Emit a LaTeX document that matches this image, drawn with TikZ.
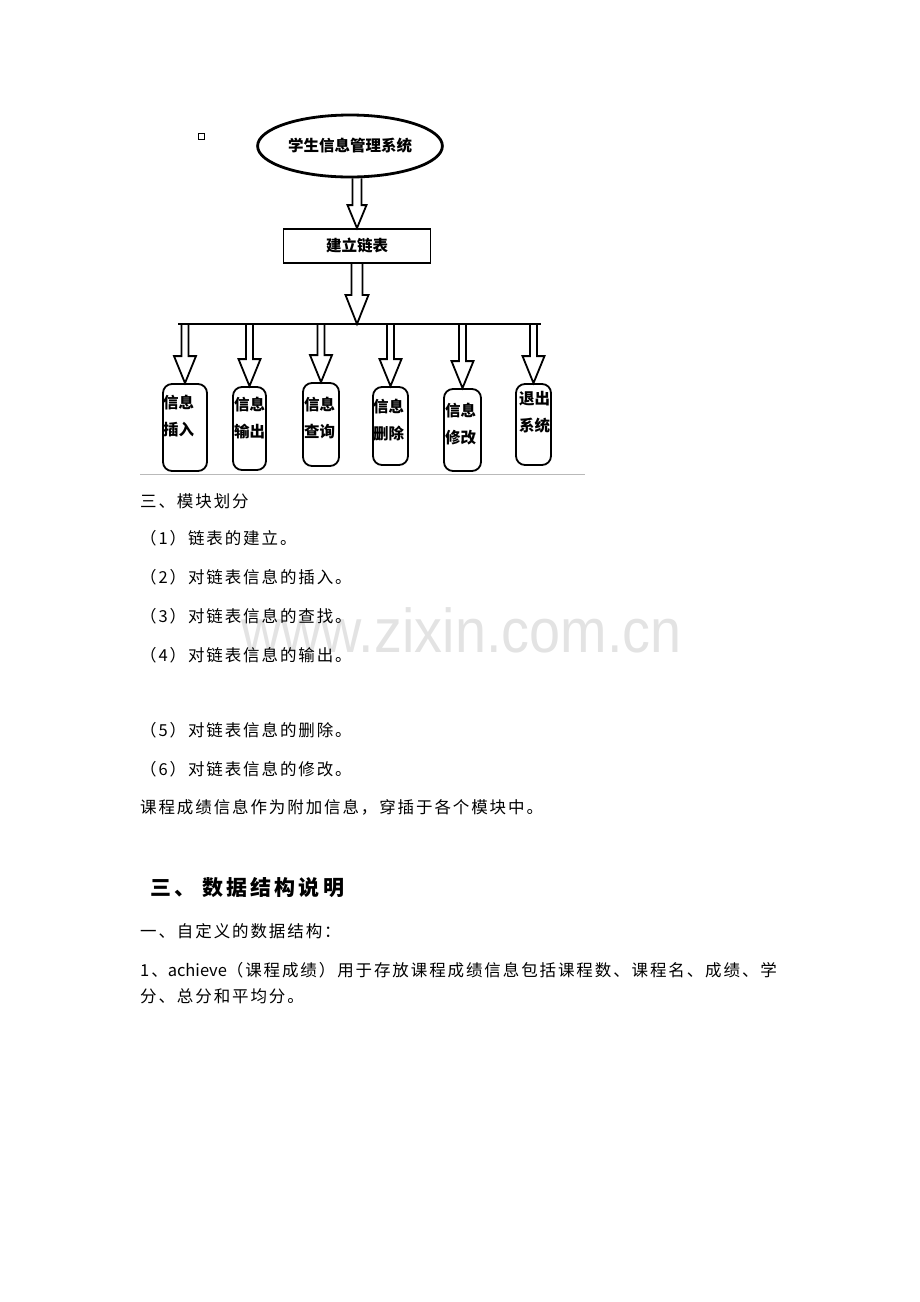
\documentclass[tikz,border=0pt]{standalone}
\usepackage{fontspec}
\usepackage{tikz}
\usetikzlibrary{positioning}
\usetikzlibrary{shapes.geometric}
\usetikzlibrary{calc}

\newfontfamily\cjk[LetterSpace=11.5]{Noto Sans CJK SC}
\newfontfamily\cjkhead[LetterSpace=15]{Noto Sans CJK SC}
\newfontfamily\cjkplain{Noto Sans CJK SC}
\newfontfamily\wmfont{Liberation Sans}

% start, tip, half shaft, half head, head length
\newcommand{\hollowarrow}[5]{%
  \draw[arrowline] ($(#1)+(-#3,0)$) -- ($(#2)+(-#3,-#5)$) -- ($(#2)+(-#4,-#5)$) -- (#2)
    -- ($(#2)+(#4,-#5)$) -- ($(#2)+(#3,-#5)$) -- ($(#1)+(#3,0)$);}

\tikzset{
  arrowline/.style={line width=1.8pt, line join=miter},
  infobox/.style={draw, line width=1.8pt, rounded corners=9pt, inner sep=0pt},
  boxtext/.style={font=\cjkplain\bfseries\fontsize{15.5}{27}\selectfont, align=left, inner sep=0pt, anchor=west},
  bodytext/.style={font=\cjk\fontsize{16.5}{18}\selectfont, inner sep=0pt, anchor=west},
}

\begin{document}
\begin{tikzpicture}[x=1pt,y=-1pt]
            \useasboundingbox (0,0) rectangle (920,1302);
            \node[font=\wmfont\fontsize{62}{62}\selectfont, text=black!11, anchor=base west, inner sep=0pt] (wm) at (241,652) {\scalebox{0.9}[1]{www.zixin.com.cn}};
            % diagram
            \draw[line width=0.6pt] (198,133) rectangle (204,139);
            \node[ellipse, draw, line width=2.8pt, minimum width=180pt, minimum height=62pt, font=\cjkplain\bfseries\fontsize{15.5}{18}\selectfont] (sys) at (350,146) {学生信息管理系统};
            \node[draw, line width=1.8pt, minimum width=147pt, minimum height=34pt, font=\cjkplain\bfseries\fontsize{15.5}{18}\selectfont] (list) at (357,246) {建立链表};
            \coordinate (top1) at (list.north |- sys.south);
            \hollowarrow{top1}{list.north}{4.5}{9.5}{23}
            \coordinate (busL) at (178,324);
            \coordinate (busR) at (541,324);
            \draw[line width=2.4pt] (busL) -- (busR);
            \coordinate (hub) at (list.south |- busL);
            \hollowarrow{list.south}{hub}{5.5}{11.5}{29}
            \node[infobox, minimum width=44pt, minimum height=87pt] (ins) at (185,427.5) {};
            \node[infobox, minimum width=33pt, minimum height=83pt] (out) at (249.5,428.5) {};
            \node[infobox, minimum width=36pt, minimum height=83pt] (qry) at (321,424.5) {};
            \node[infobox, minimum width=35pt, minimum height=78pt] (del) at (390.5,426) {};
            \node[infobox, minimum width=37pt, minimum height=82pt] (mod) at (462.5,430) {};
            \node[infobox, minimum width=35pt, minimum height=81pt] (ext) at (533.5,424.5) {};
            \node[boxtext] (insT) at (163,416.5) {信息\\插入};
            \node[boxtext] (outT) at (234,418.5) {信息\\输出};
            \node[boxtext] (qryT) at (304,417.5) {信息\\查询};
            \node[boxtext] (delT) at (373,420) {信息\\删除};
            \node[boxtext] (modT) at (445,424.5) {信息\\修改};
            \node[boxtext] (extT) at (519,412.5) {退出\\系统};
            \coordinate (ins0) at (ins.north |- busL);
            \coordinate (out0) at (out.north |- busL);
            \coordinate (qry0) at (qry.north |- busL);
            \coordinate (del0) at (del.north |- busL);
            \coordinate (mod0) at (mod.north |- busL);
            \coordinate (ext0) at (ext.north |- busL);
            \hollowarrow{ins0}{ins.north}{3.5}{11}{27}
            \hollowarrow{out0}{out.north}{3.5}{11}{27}
            \hollowarrow{qry0}{qry.north}{3.5}{11}{27}
            \hollowarrow{del0}{del.north}{3.5}{11}{27}
            \hollowarrow{mod0}{mod.north}{3.5}{11}{27}
            \hollowarrow{ext0}{ext.north}{3.5}{11}{27}
            \draw[gray!55, line width=1pt] (140,474) -- (585,474);
            % text
            \node[bodytext] (sec) at (140,501) {三、模块划分};
            \node[bodytext] (m1) at (140,538) {（1）链表的建立。};
            \node[bodytext] (m2) at (140,577) {（2）对链表信息的插入。};
            \node[bodytext] (m3) at (140,616) {（3）对链表信息的查找。};
            \node[bodytext] (m4) at (140,655) {（4）对链表信息的输出。};
            \node[bodytext] (m5) at (140,730) {（5）对链表信息的删除。};
            \node[bodytext] (m6) at (140,769) {（6）对链表信息的修改。};
            \node[bodytext] (note) at (140,807) {课程成绩信息作为附加信息，穿插于各个模块中。};
            \node[font=\cjkhead\bfseries\fontsize{21}{24}\selectfont, inner sep=0pt, anchor=west] (head) at (150,888) {三、\hspace{7pt}数据结构说明};
            \node[bodytext] (def) at (140,931) {一、自定义的数据结构：};
            \node[bodytext] (ach1) at (140,970) {1、{\cjkplain achieve}（课程成绩）用于存放课程成绩信息包括课程数、课程名、成绩、学};
            \node[bodytext] (ach2) at (140,996) {分、总分和平均分。};
        \end{tikzpicture}
\end{document}
